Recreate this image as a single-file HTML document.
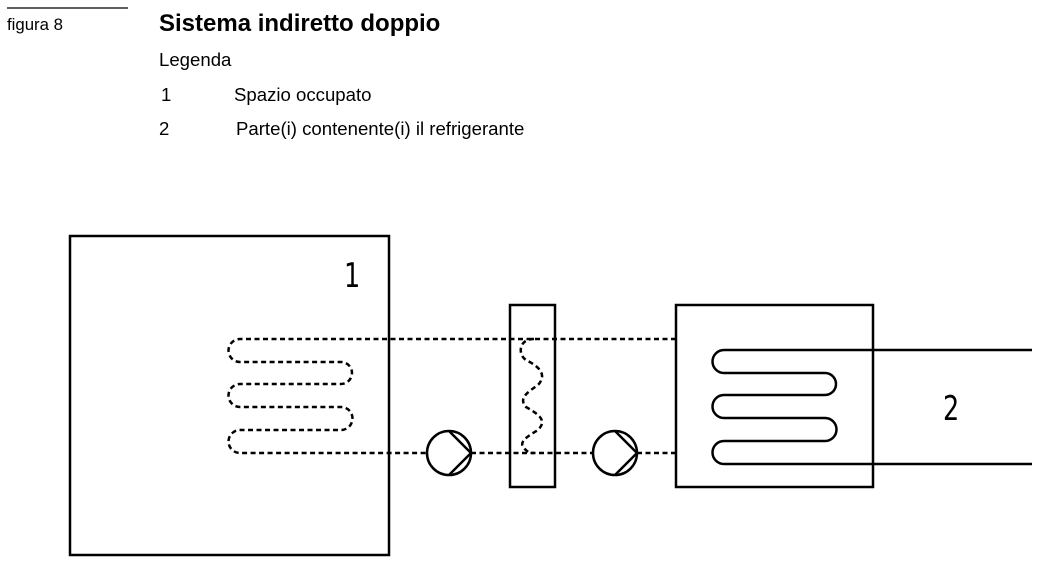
<!DOCTYPE html>
<html><head><meta charset="utf-8"><style>
body{margin:0;background:#fff;width:1039px;height:566px;overflow:hidden}
</style></head><body>
<svg width="1039" height="566" viewBox="0 0 1039 566" xmlns="http://www.w3.org/2000/svg" font-family="Liberation Sans, Arial, sans-serif">
<line x1="7" y1="8" x2="128" y2="8" stroke="#000" stroke-width="1.2"/>
<text x="7" y="30" font-size="16.8">figura 8</text>
<text x="159" y="31" font-size="24" font-weight="bold">Sistema indiretto doppio</text>
<text x="159" y="66" font-size="18.6">Legenda</text>
<text x="161" y="101" font-size="18.6">1</text>
<text x="234" y="101" font-size="18.6">Spazio occupato</text>
<text x="159" y="135" font-size="18.6">2</text>
<text x="236" y="135" font-size="18.6">Parte(i) contenente(i) il refrigerante</text>

<g fill="none" stroke="#000" stroke-width="2.5">
<rect x="70" y="236" width="319" height="319"/>
<rect x="510" y="305" width="45" height="182"/>
<rect x="676" y="305" width="197" height="182"/>
<circle cx="449" cy="453" r="22"/>
<path d="M449 431 L471 453 L449 475"/>
<circle cx="615" cy="453" r="22"/>
<path d="M615 431 L637 453 L615 475"/>
<path d="M1032 350 H724 A11.5 11.5 0 0 0 724 373 H825 A11 11 0 0 1 825 395 H724 A11.5 11.5 0 0 0 724 418 H825 A11.5 11.5 0 0 1 825 441 H724 A11.5 11.5 0 0 0 724 464 H1032"/>
</g>
<g fill="none" stroke="#000" stroke-width="2.5" stroke-dasharray="5 3.5">
<path d="M676 339 H240 A11.5 11.5 0 0 0 240 362 H341 A11 11 0 0 1 341 384 H240 A11.5 11.5 0 0 0 240 407 H341 A11.5 11.5 0 0 1 341 430 H240 A11.5 11.5 0 0 0 240 453 H427"/>
<path d="M471 453 H593"/>
<path d="M637 453 H676"/>
<path d="M534 339 C518 339 518 355 526 360 C538 366 548 374 538 385 C528 392 518 398 526 407 C538 414 548 420 538 430 C528 436 518 442 524 448 C527 452 530 453 534 453"/>
</g>
<text x="344" y="287" font-size="34" font-family="DejaVu Sans, sans-serif" transform="translate(344 0) scale(0.75 1) translate(-344 0)">1</text>
<text x="943" y="420" font-size="34" font-family="DejaVu Sans, sans-serif" transform="translate(943 0) scale(0.75 1) translate(-943 0)">2</text>
</svg>
</body></html>
